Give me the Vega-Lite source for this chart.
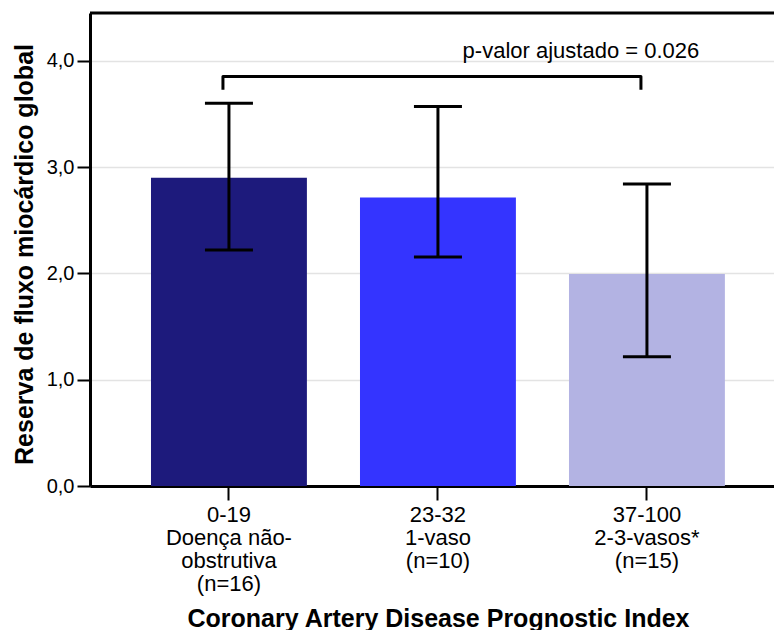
{
  "$schema": "https://vega.github.io/schema/vega-lite/v6.json",
  "width": 684,
  "height": 473,
  "autosize": {"type": "none"},
  "padding": {"left": 90, "top": 13, "right": 0, "bottom": 144},
  "background": "white",
  "config": {"view": {"stroke": null}, "font": "Liberation Sans"},
  "datasets": {
    "bars": [
      {"grupo": "0-19|Doença não-|obstrutiva|(n=16)", "media": 2.9, "inferior": 2.22, "superior": 3.6},
      {"grupo": "23-32|1-vaso|(n=10)", "media": 2.715, "inferior": 2.155, "superior": 3.57},
      {"grupo": "37-100|2-3-vasos*|(n=15)", "media": 1.995, "inferior": 1.215, "superior": 2.842}
    ],
    "bracket": [
      {"grupo": "0-19|Doença não-|obstrutiva|(n=16)", "y": 3.727, "ordem": 1},
      {"grupo": "0-19|Doença não-|obstrutiva|(n=16)", "y": 3.852, "ordem": 2},
      {"grupo": "37-100|2-3-vasos*|(n=15)", "y": 3.852, "ordem": 3},
      {"grupo": "37-100|2-3-vasos*|(n=15)", "y": 3.727, "ordem": 4}
    ],
    "nota": [{"grupo": "37-100|2-3-vasos*|(n=15)", "y": 4.025, "texto": "p-valor ajustado = 0.026"}],
    "frame": [{"y": 4.45}]
  },
  "layer": [
    {
      "data": {"name": "bars"},
      "mark": {"type": "bar"},
      "encoding": {
        "x": {
          "field": "grupo", "type": "nominal",
          "scale": {"type": "band", "domain": ["0-19|Doença não-|obstrutiva|(n=16)", "23-32|1-vaso|(n=10)", "37-100|2-3-vasos*|(n=15)"], "paddingInner": 0.254, "paddingOuter": 0.2634, "align": 0.554},
          "axis": {
            "labelExpr": "split(datum.label, '|')", "labelAngle": 0, "labelFontSize": 22, "labelLineHeight": 23,
            "labelColor": "black", "labelPadding": 4, "tickSize": 14, "tickWidth": 2, "tickColor": "black",
            "domainColor": "black", "domainWidth": 3,
            "title": "Coronary Artery Disease Prognostic Index", "titleFontSize": 25, "titleFontWeight": "bold",
            "titleColor": "black", "titleX": 348, "titleY": 140, "titleBaseline": "alphabetic"
          }
        },
        "y": {
          "field": "media", "type": "quantitative",
          "scale": {"domain": [0, 4.45], "nice": false},
          "axis": {
            "values": [0, 1, 2, 3, 4],
            "labelExpr": "replace(format(datum.value, '.1f'), '.', ',')",
            "grid": true, "gridColor": "#e3e3e3", "gridWidth": 1.5,
            "domainColor": "black", "domainWidth": 3, "tickColor": "black", "tickWidth": 2, "tickSize": 13,
            "labelPadding": 3, "labelFontSize": 20, "labelColor": "black",
            "title": "Reserva de fluxo miocárdico global", "titleFontSize": 25, "titleFontWeight": "bold",
            "titleColor": "black", "titleX": -58, "titleY": 241, "titleBaseline": "alphabetic", "titleAngle": -90
          }
        },
        "color": {
          "field": "grupo", "type": "nominal",
          "scale": {"domain": ["0-19|Doença não-|obstrutiva|(n=16)", "23-32|1-vaso|(n=10)", "37-100|2-3-vasos*|(n=15)"], "range": ["#1d1a7c", "#3434ff", "#b3b3e3"]},
          "legend": null
        }
      }
    },
    {
      "data": {"name": "bars"},
      "mark": {"type": "rule", "color": "black", "strokeWidth": 3},
      "encoding": {
        "x": {"field": "grupo", "type": "nominal", "title": "Coronary Artery Disease Prognostic Index"},
        "y": {"field": "inferior", "type": "quantitative", "title": "Reserva de fluxo miocárdico global"},
        "y2": {"field": "superior"}
      }
    },
    {
      "data": {"name": "bars"},
      "mark": {"type": "tick", "color": "black", "opacity": 1, "size": 48, "thickness": 3, "orient": "horizontal"},
      "encoding": {
        "x": {"field": "grupo", "type": "nominal", "title": "Coronary Artery Disease Prognostic Index"},
        "y": {"field": "inferior", "type": "quantitative", "title": "Reserva de fluxo miocárdico global"}
      }
    },
    {
      "data": {"name": "bars"},
      "mark": {"type": "tick", "color": "black", "opacity": 1, "size": 48, "thickness": 3, "orient": "horizontal"},
      "encoding": {
        "x": {"field": "grupo", "type": "nominal", "title": "Coronary Artery Disease Prognostic Index"},
        "y": {"field": "superior", "type": "quantitative", "title": "Reserva de fluxo miocárdico global"}
      }
    },
    {
      "data": {"name": "bracket"},
      "mark": {"type": "line", "color": "black", "strokeWidth": 3, "strokeJoin": "round", "xOffset": -6},
      "encoding": {
        "x": {"field": "grupo", "type": "nominal", "title": "Coronary Artery Disease Prognostic Index"},
        "y": {"field": "y", "type": "quantitative", "title": "Reserva de fluxo miocárdico global"},
        "order": {"field": "ordem", "type": "quantitative"}
      }
    },
    {
      "data": {"name": "nota"},
      "mark": {"type": "text", "fontSize": 22, "align": "center", "baseline": "alphabetic", "dx": -66, "color": "black"},
      "encoding": {
        "x": {"field": "grupo", "type": "nominal", "title": "Coronary Artery Disease Prognostic Index"},
        "y": {"field": "y", "type": "quantitative", "title": "Reserva de fluxo miocárdico global"},
        "text": {"field": "texto"}
      }
    },
    {
      "data": {"name": "frame"},
      "mark": {"type": "rule", "color": "black", "strokeWidth": 3},
      "encoding": {
        "y": {"field": "y", "type": "quantitative", "title": "Reserva de fluxo miocárdico global"}
      }
    }
  ]
}
